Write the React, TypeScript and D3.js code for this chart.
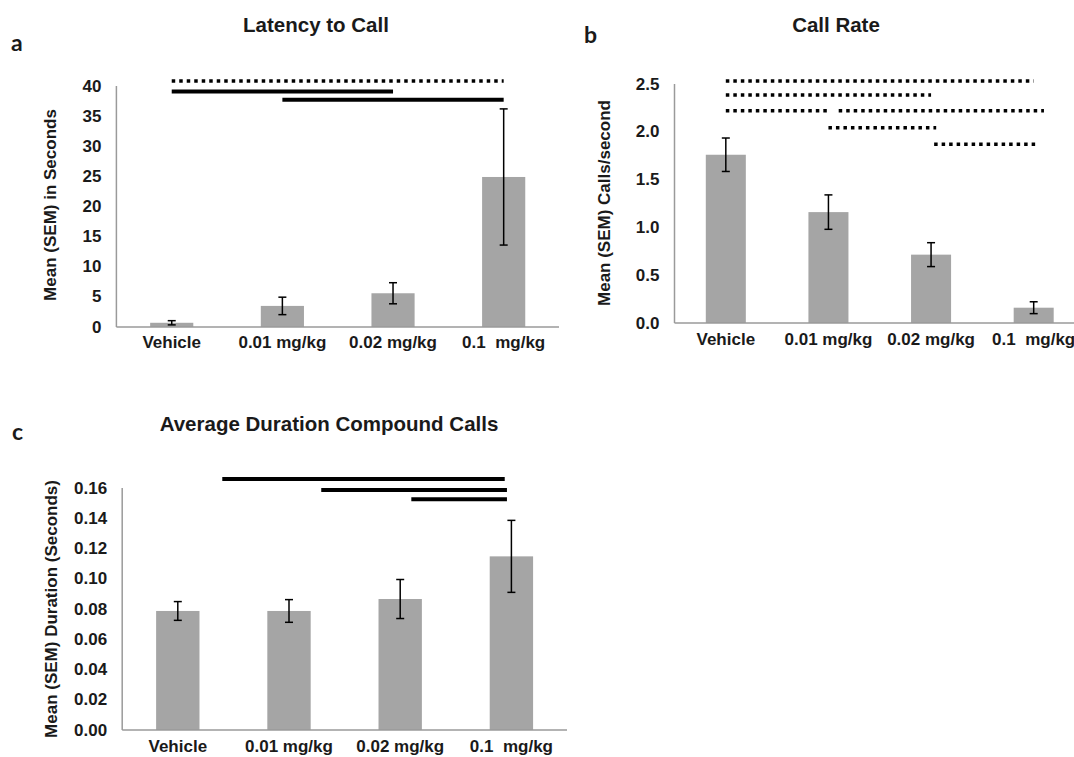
import React from "react";
import * as d3 from "d3";

// ---- data ----
const categories = ["Vehicle", "0.01 mg/kg", "0.02 mg/kg", "0.1  mg/kg"];

const latencyMean = [0.7, 3.5, 5.6, 24.9];
const latencySem = [0.35, 1.45, 1.75, 11.3];
const latencyTicks = [0, 5, 10, 15, 20, 25, 30, 35, 40];

const rateMean = [1.76, 1.16, 0.715, 0.16];
const rateSem = [0.175, 0.18, 0.125, 0.062];
const rateTicks = [0, 0.5, 1.0, 1.5, 2.0, 2.5];

const durationMean = [0.0787, 0.0787, 0.0866, 0.1148];
const durationSem = [0.0062, 0.0075, 0.0129, 0.0238];
const durationTicks = [0, 0.02, 0.04, 0.06, 0.08, 0.1, 0.12, 0.14, 0.16];

// significance bars: span in category index units, height in data units
const latencySig = [
  { from: 0, to: 3, level: 40.83, dotted: true },
  { from: 0, to: 2, level: 39.1, dotted: false },
  { from: 1, to: 3, level: 37.7, dotted: false },
];
const rateSig = [
  { from: 0, to: 3, level: 2.531, dotted: true },
  { from: 0, to: 2, level: 2.385, dotted: true },
  { from: 0, to: 1, level: 2.221, dotted: true },
  { from: 1.1, to: 3.1, level: 2.221, dotted: true },
  { from: 1, to: 2.05, level: 2.043, dotted: true },
  { from: 2.03, to: 3.03, level: 1.869, dotted: true },
];
const durationSig = [
  { from: 0.4, to: 2.94, level: 0.166, dotted: false },
  { from: 1.29, to: 2.96, level: 0.1587, dotted: false },
  { from: 2.1, to: 2.96, level: 0.1525, dotted: false },
];

const FONT = "'Liberation Sans', Arial, sans-serif";
const BAR = "#a5a5a5";
const AXIS = "#9a9a9a";

type Sig = { from: number; to: number; level: number; dotted: boolean };

type PanelProps = {
  letter: string;
  letterX: number;
  letterY: number;
  title: string;
  titleX: number;
  titleY: number;
  yLabel: string;
  yLabelX: number;
  yLabelY: number;
  x0: number;
  x1: number;
  yBottom: number;
  yTop: number;
  yMax: number;
  ticks: number[];
  tickFmt: (v: number) => string;
  labelY: number;
  mean: number[];
  sem: number[];
  sig: Sig[];
};

function Panel(p: PanelProps) {
  const x = d3.scaleBand<string>()
    .domain(categories)
    .range([p.x0, p.x1])
    .paddingInner(0.61)
    .paddingOuter(0.305);
  const y = d3.scaleLinear().domain([0, p.yMax]).range([p.yBottom, p.yTop]);
  const bw = x.bandwidth();
  const step = x.step();
  const cx = (i: number) => (x(categories[0]) as number) + bw / 2 + i * step;

  return (
    <g fontFamily={FONT} fontWeight="bold" fill="#1a1a1a">
      <text x={p.letterX} y={p.letterY} fontFamily="Lato, 'Open Sans', sans-serif" fontSize={23}>{p.letter}</text>
      <text x={p.titleX} y={p.titleY} textAnchor="middle" fontSize={20.5}>{p.title}</text>
      <text
        transform={`translate(${p.yLabelX},${p.yLabelY}) rotate(-90)`}
        textAnchor="middle"
        dominantBaseline="central"
        fontSize={17}
      >{p.yLabel}</text>

      {/* y tick labels */}
      {p.ticks.map((t) => (
        <text key={t} x={p.x0 - 15} y={y(t)} textAnchor="end" dominantBaseline="central" fontSize={17}>
          {p.tickFmt(t)}
        </text>
      ))}

      {/* bars */}
      {p.mean.map((m, i) => (
        <rect key={i} x={x(categories[i])} y={y(m)} width={bw} height={y(0) - y(m)} fill={BAR} />
      ))}

      {/* axes */}
      <line x1={p.x0} x2={p.x0} y1={y(0)} y2={y(p.yMax)} stroke={AXIS} strokeWidth={1.5} />
      <line x1={p.x0} x2={p.x1} y1={y(0)} y2={y(0)} stroke={AXIS} strokeWidth={1.5} />

      {/* error bars */}
      {p.mean.map((m, i) => {
        const c = cx(i);
        const hi = y(m + p.sem[i]);
        const lo = y(m - p.sem[i]);
        return (
          <g key={i} stroke="#000" strokeWidth={1.5}>
            <line x1={c} x2={c} y1={hi} y2={lo} />
            <line x1={c - 4} x2={c + 4} y1={hi} y2={hi} />
            <line x1={c - 4} x2={c + 4} y1={lo} y2={lo} />
          </g>
        );
      })}

      {/* category labels */}
      {categories.map((c, i) => (
        <text key={c} x={cx(i)} y={p.labelY} textAnchor="middle" fontSize={17} style={{ whiteSpace: "pre" }}>
          {c}
        </text>
      ))}

      {/* significance bars */}
      {p.sig.map((s, i) => (
        <line
          key={i}
          x1={cx(s.from)}
          x2={cx(s.to)}
          y1={y(s.level)}
          y2={y(s.level)}
          stroke="#000"
          strokeWidth={s.dotted ? 3.5 : 4}
          strokeDasharray={s.dotted ? "3.5 4" : undefined}
        />
      ))}
    </g>
  );
}

export default function App() {
  return (
    <svg
      width={1074}
      height={757}
      style={{ position: "absolute", left: 0, top: 0, background: "#fff" }}
    >
      <Panel
        letter="a" letterX={11} letterY={51}
        title="Latency to Call" titleX={316} titleY={32}
        yLabel="Mean (SEM) in Seconds" yLabelX={50} yLabelY={205}
        x0={116.4} x1={559} yBottom={327} yTop={86} yMax={40}
        ticks={latencyTicks} tickFmt={(v) => String(v)}
        labelY={348}
        mean={latencyMean} sem={latencySem} sig={latencySig}
      />
      <Panel
        letter="b" letterX={584} letterY={43}
        title="Call Rate" titleX={836} titleY={32}
        yLabel="Mean (SEM) Calls/second" yLabelX={604} yLabelY={203}
        x0={674.5} x1={1085} yBottom={323} yTop={84} yMax={2.5}
        ticks={rateTicks} tickFmt={(v) => v.toFixed(1)}
        labelY={345}
        mean={rateMean} sem={rateSem} sig={rateSig}
      />
      <Panel
        letter="c" letterX={12} letterY={440}
        title="Average Duration Compound Calls" titleX={329} titleY={431}
        yLabel="Mean (SEM) Duration (Seconds)" yLabelX={51} yLabelY={609}
        x0={122.2} x1={567} yBottom={730} yTop={488} yMax={0.16}
        ticks={durationTicks} tickFmt={(v) => v.toFixed(2)}
        labelY={752}
        mean={durationMean} sem={durationSem} sig={durationSig}
      />
    </svg>
  );
}
